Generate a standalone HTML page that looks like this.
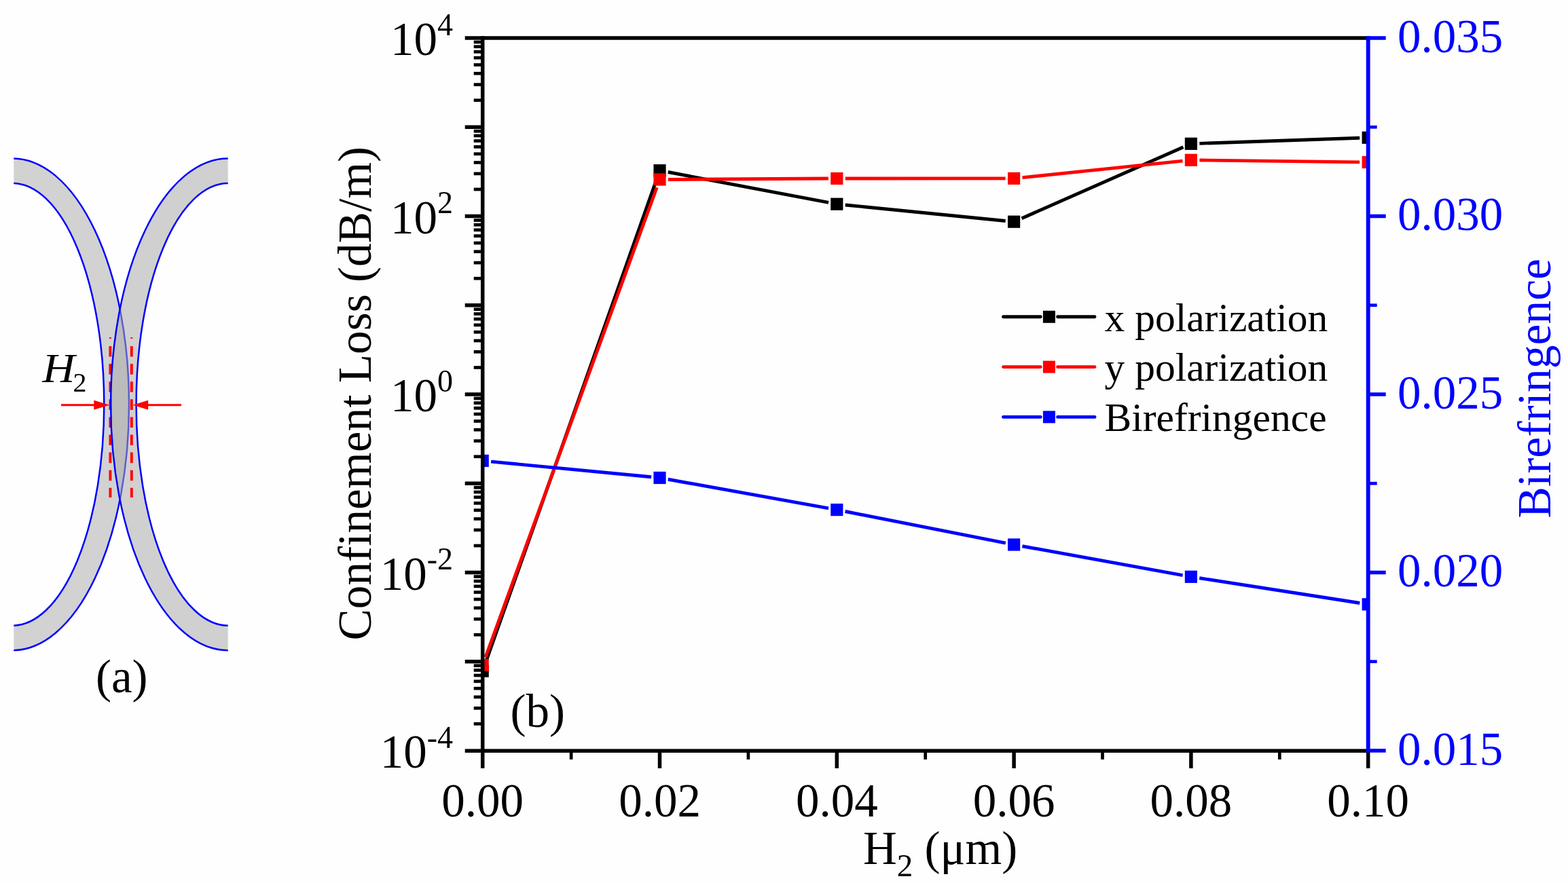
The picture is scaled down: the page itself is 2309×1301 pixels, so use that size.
<!DOCTYPE html>
<html lang="en"><head><meta charset="utf-8"><title>Confinement loss and birefringence versus H2</title>
<style>html,body{margin:0;padding:0;background:#fefefe;}body{width:2309px;height:1301px;overflow:hidden;}svg{display:block;}text{font-family:'Liberation Serif', serif;}</style>
</head><body>
<svg width="2309" height="1301" viewBox="0 0 2309 1301">
<rect x="0" y="0" width="2309" height="1301" fill="#fefefe"/>
<g id="panel-a">
<defs><clipPath id="aclip"><rect x="20.3" y="200" width="315.5" height="800"/></clipPath></defs>
<g clip-path="url(#aclip)">
<path d="M18.5,233.4 A171.5,362.4 0 0 1 18.5,958.2 L18.5,921.7 A134.85,325.9 0 0 0 18.5,269.9 Z" fill="#d2d2d2"/>
<path d="M18.5,233.4 A171.5,362.4 0 0 1 18.5,958.2" fill="none" stroke="#0000ff" stroke-width="2.5"/>
<path d="M18.5,269.9 A134.85,325.9 0 0 1 18.5,921.7" fill="none" stroke="#0000ff" stroke-width="2.5"/>
<path d="M335.8,233.4 A172.7,362.4 0 0 0 335.8,958.2 L335.8,921.7 A135.25,325.9 0 0 1 335.8,269.9 Z" fill="#a9a9a9" fill-opacity="0.55"/>
<line x1="162.4" y1="497" x2="162.4" y2="499" stroke="#ff0000" stroke-width="3"/>
<line x1="162.4" y1="510" x2="162.4" y2="733" stroke="#ff0000" stroke-width="3.9" stroke-dasharray="15.6 10.5"/>
<line x1="193.8" y1="497" x2="193.8" y2="499" stroke="#ff0000" stroke-width="3"/>
<line x1="193.8" y1="510" x2="193.8" y2="733" stroke="#ff0000" stroke-width="3.9" stroke-dasharray="15.6 10.5"/>
<path d="M335.8,233.4 A172.7,362.4 0 0 0 335.8,958.2" fill="none" stroke="#0000ff" stroke-width="2.5"/>
<path d="M335.8,269.9 A135.25,325.9 0 0 0 335.8,921.7" fill="none" stroke="#0000ff" stroke-width="2.5"/>
</g>
<line x1="90" y1="596.8" x2="140" y2="596.8" stroke="#ff0000" stroke-width="3.1"/>
<polygon points="138.3,589.8 161.4,596.8 138.3,603.8" fill="#ff0000"/>
<line x1="267" y1="596.8" x2="217" y2="596.8" stroke="#ff0000" stroke-width="3.1"/>
<polygon points="218.2,589.8 195.4,596.8 218.2,603.8" fill="#ff0000"/>
<text transform="translate(62.6,563.2) scale(1.07,1)" x="0" y="0" font-size="62" font-style="italic" fill="#000">H</text>
<text x="107.5" y="577.4" font-size="40" fill="#000">2</text>
<text x="141" y="1020" font-size="69" fill="#000">(a)</text>
</g>
<g id="panel-b">
<defs><clipPath id="plotclip"><rect x="710.7" y="56" width="1304" height="1050"/></clipPath></defs>
<g clip-path="url(#plotclip)">
<line x1="714.87" y1="976.92" x2="967.33" y2="262.98" stroke="#000000" stroke-width="4.9"/>
<line x1="983.78" y1="253.53" x2="1220.02" y2="298.37" stroke="#000000" stroke-width="4.9"/>
<line x1="1244.74" y1="301.94" x2="1480.66" y2="325.46" stroke="#000000" stroke-width="4.9"/>
<line x1="1504.54" y1="321.66" x2="1742.46" y2="216.84" stroke="#000000" stroke-width="4.9"/>
<line x1="1766.39" y1="211.37" x2="2002.21" y2="203.23" stroke="#000000" stroke-width="4.9"/>
<rect x="701.6" y="979.6" width="18.2" height="18.2" fill="#000000"/>
<rect x="962.4" y="242.1" width="18.2" height="18.2" fill="#000000"/>
<rect x="1223.2" y="291.6" width="18.2" height="18.2" fill="#000000"/>
<rect x="1484" y="317.6" width="18.2" height="18.2" fill="#000000"/>
<rect x="1744.8" y="202.7" width="18.2" height="18.2" fill="#000000"/>
<rect x="2005.6" y="193.7" width="18.2" height="18.2" fill="#000000"/>
<line x1="714.98" y1="968.26" x2="967.22" y2="276.24" stroke="#ff0000" stroke-width="4.9"/>
<line x1="984" y1="264.43" x2="1219.8" y2="263.07" stroke="#ff0000" stroke-width="4.9"/>
<line x1="1244.8" y1="263" x2="1480.6" y2="262.9" stroke="#ff0000" stroke-width="4.9"/>
<line x1="1505.53" y1="261.61" x2="1741.47" y2="237.09" stroke="#ff0000" stroke-width="4.9"/>
<line x1="1766.4" y1="235.95" x2="2002.2" y2="238.85" stroke="#ff0000" stroke-width="4.9"/>
<rect x="701.6" y="970.9" width="18.2" height="18.2" fill="#ff0000"/>
<rect x="962.4" y="255.4" width="18.2" height="18.2" fill="#ff0000"/>
<rect x="1223.2" y="253.9" width="18.2" height="18.2" fill="#ff0000"/>
<rect x="1484" y="253.8" width="18.2" height="18.2" fill="#ff0000"/>
<rect x="1744.8" y="226.7" width="18.2" height="18.2" fill="#ff0000"/>
<rect x="2005.6" y="229.9" width="18.2" height="18.2" fill="#ff0000"/>
<line x1="723.14" y1="680.1" x2="959.06" y2="702.8" stroke="#0000ff" stroke-width="4.9"/>
<line x1="983.8" y1="706.22" x2="1220" y2="748.88" stroke="#0000ff" stroke-width="4.9"/>
<line x1="1244.56" y1="753.52" x2="1480.84" y2="800.08" stroke="#0000ff" stroke-width="4.9"/>
<line x1="1505.4" y1="804.73" x2="1741.6" y2="847.57" stroke="#0000ff" stroke-width="4.9"/>
<line x1="1766.25" y1="851.72" x2="2002.35" y2="888.48" stroke="#0000ff" stroke-width="4.9"/>
<rect x="701.6" y="669.8" width="18.2" height="18.2" fill="#0000ff"/>
<rect x="962.4" y="694.9" width="18.2" height="18.2" fill="#0000ff"/>
<rect x="1223.2" y="742" width="18.2" height="18.2" fill="#0000ff"/>
<rect x="1484" y="793.4" width="18.2" height="18.2" fill="#0000ff"/>
<rect x="1744.8" y="840.7" width="18.2" height="18.2" fill="#0000ff"/>
<rect x="2005.6" y="881.3" width="18.2" height="18.2" fill="#0000ff"/>
</g>
<g stroke="#000" fill="none">
<line x1="684.7" y1="56" x2="2014.7" y2="56" stroke-width="5.5"/>
<line x1="684.7" y1="1106.3" x2="2014.7" y2="1106.3" stroke-width="5.5"/>
<line x1="710.7" y1="53.25" x2="710.7" y2="1132" stroke-width="5.5"/>
<line x1="697.7" y1="147.74" x2="710.7" y2="147.74" stroke-width="4.7"/>
<line x1="697.7" y1="124.63" x2="710.7" y2="124.63" stroke-width="4.7"/>
<line x1="697.7" y1="108.23" x2="710.7" y2="108.23" stroke-width="4.7"/>
<line x1="697.7" y1="95.51" x2="710.7" y2="95.51" stroke-width="4.7"/>
<line x1="697.7" y1="85.12" x2="710.7" y2="85.12" stroke-width="4.7"/>
<line x1="697.7" y1="76.33" x2="710.7" y2="76.33" stroke-width="4.7"/>
<line x1="697.7" y1="68.72" x2="710.7" y2="68.72" stroke-width="4.7"/>
<line x1="697.7" y1="62.01" x2="710.7" y2="62.01" stroke-width="4.7"/>
<line x1="684.7" y1="187.25" x2="710.7" y2="187.25" stroke-width="5.5"/>
<line x1="697.7" y1="278.99" x2="710.7" y2="278.99" stroke-width="4.7"/>
<line x1="697.7" y1="255.88" x2="710.7" y2="255.88" stroke-width="4.7"/>
<line x1="697.7" y1="239.48" x2="710.7" y2="239.48" stroke-width="4.7"/>
<line x1="697.7" y1="226.76" x2="710.7" y2="226.76" stroke-width="4.7"/>
<line x1="697.7" y1="216.37" x2="710.7" y2="216.37" stroke-width="4.7"/>
<line x1="697.7" y1="207.58" x2="710.7" y2="207.58" stroke-width="4.7"/>
<line x1="697.7" y1="199.97" x2="710.7" y2="199.97" stroke-width="4.7"/>
<line x1="697.7" y1="193.26" x2="710.7" y2="193.26" stroke-width="4.7"/>
<line x1="684.7" y1="318.5" x2="710.7" y2="318.5" stroke-width="5.5"/>
<line x1="697.7" y1="410.24" x2="710.7" y2="410.24" stroke-width="4.7"/>
<line x1="697.7" y1="387.13" x2="710.7" y2="387.13" stroke-width="4.7"/>
<line x1="697.7" y1="370.73" x2="710.7" y2="370.73" stroke-width="4.7"/>
<line x1="697.7" y1="358.01" x2="710.7" y2="358.01" stroke-width="4.7"/>
<line x1="697.7" y1="347.62" x2="710.7" y2="347.62" stroke-width="4.7"/>
<line x1="697.7" y1="338.83" x2="710.7" y2="338.83" stroke-width="4.7"/>
<line x1="697.7" y1="331.22" x2="710.7" y2="331.22" stroke-width="4.7"/>
<line x1="697.7" y1="324.51" x2="710.7" y2="324.51" stroke-width="4.7"/>
<line x1="684.7" y1="449.75" x2="710.7" y2="449.75" stroke-width="5.5"/>
<line x1="697.7" y1="541.49" x2="710.7" y2="541.49" stroke-width="4.7"/>
<line x1="697.7" y1="518.38" x2="710.7" y2="518.38" stroke-width="4.7"/>
<line x1="697.7" y1="501.98" x2="710.7" y2="501.98" stroke-width="4.7"/>
<line x1="697.7" y1="489.26" x2="710.7" y2="489.26" stroke-width="4.7"/>
<line x1="697.7" y1="478.87" x2="710.7" y2="478.87" stroke-width="4.7"/>
<line x1="697.7" y1="470.08" x2="710.7" y2="470.08" stroke-width="4.7"/>
<line x1="697.7" y1="462.47" x2="710.7" y2="462.47" stroke-width="4.7"/>
<line x1="697.7" y1="455.76" x2="710.7" y2="455.76" stroke-width="4.7"/>
<line x1="684.7" y1="581" x2="710.7" y2="581" stroke-width="5.5"/>
<line x1="697.7" y1="672.74" x2="710.7" y2="672.74" stroke-width="4.7"/>
<line x1="697.7" y1="649.63" x2="710.7" y2="649.63" stroke-width="4.7"/>
<line x1="697.7" y1="633.23" x2="710.7" y2="633.23" stroke-width="4.7"/>
<line x1="697.7" y1="620.51" x2="710.7" y2="620.51" stroke-width="4.7"/>
<line x1="697.7" y1="610.12" x2="710.7" y2="610.12" stroke-width="4.7"/>
<line x1="697.7" y1="601.33" x2="710.7" y2="601.33" stroke-width="4.7"/>
<line x1="697.7" y1="593.72" x2="710.7" y2="593.72" stroke-width="4.7"/>
<line x1="697.7" y1="587.01" x2="710.7" y2="587.01" stroke-width="4.7"/>
<line x1="684.7" y1="712.25" x2="710.7" y2="712.25" stroke-width="5.5"/>
<line x1="697.7" y1="803.99" x2="710.7" y2="803.99" stroke-width="4.7"/>
<line x1="697.7" y1="780.88" x2="710.7" y2="780.88" stroke-width="4.7"/>
<line x1="697.7" y1="764.48" x2="710.7" y2="764.48" stroke-width="4.7"/>
<line x1="697.7" y1="751.76" x2="710.7" y2="751.76" stroke-width="4.7"/>
<line x1="697.7" y1="741.37" x2="710.7" y2="741.37" stroke-width="4.7"/>
<line x1="697.7" y1="732.58" x2="710.7" y2="732.58" stroke-width="4.7"/>
<line x1="697.7" y1="724.97" x2="710.7" y2="724.97" stroke-width="4.7"/>
<line x1="697.7" y1="718.26" x2="710.7" y2="718.26" stroke-width="4.7"/>
<line x1="684.7" y1="843.5" x2="710.7" y2="843.5" stroke-width="5.5"/>
<line x1="697.7" y1="935.24" x2="710.7" y2="935.24" stroke-width="4.7"/>
<line x1="697.7" y1="912.13" x2="710.7" y2="912.13" stroke-width="4.7"/>
<line x1="697.7" y1="895.73" x2="710.7" y2="895.73" stroke-width="4.7"/>
<line x1="697.7" y1="883.01" x2="710.7" y2="883.01" stroke-width="4.7"/>
<line x1="697.7" y1="872.62" x2="710.7" y2="872.62" stroke-width="4.7"/>
<line x1="697.7" y1="863.83" x2="710.7" y2="863.83" stroke-width="4.7"/>
<line x1="697.7" y1="856.22" x2="710.7" y2="856.22" stroke-width="4.7"/>
<line x1="697.7" y1="849.51" x2="710.7" y2="849.51" stroke-width="4.7"/>
<line x1="684.7" y1="974.75" x2="710.7" y2="974.75" stroke-width="5.5"/>
<line x1="697.7" y1="1066.49" x2="710.7" y2="1066.49" stroke-width="4.7"/>
<line x1="697.7" y1="1043.38" x2="710.7" y2="1043.38" stroke-width="4.7"/>
<line x1="697.7" y1="1026.98" x2="710.7" y2="1026.98" stroke-width="4.7"/>
<line x1="697.7" y1="1014.26" x2="710.7" y2="1014.26" stroke-width="4.7"/>
<line x1="697.7" y1="1003.87" x2="710.7" y2="1003.87" stroke-width="4.7"/>
<line x1="697.7" y1="995.08" x2="710.7" y2="995.08" stroke-width="4.7"/>
<line x1="697.7" y1="987.47" x2="710.7" y2="987.47" stroke-width="4.7"/>
<line x1="697.7" y1="980.76" x2="710.7" y2="980.76" stroke-width="4.7"/>
<line x1="841.1" y1="1106" x2="841.1" y2="1119" stroke-width="4.7"/>
<line x1="971.5" y1="1106" x2="971.5" y2="1132" stroke-width="5.5"/>
<line x1="1101.9" y1="1106" x2="1101.9" y2="1119" stroke-width="4.7"/>
<line x1="1232.3" y1="1106" x2="1232.3" y2="1132" stroke-width="5.5"/>
<line x1="1362.7" y1="1106" x2="1362.7" y2="1119" stroke-width="4.7"/>
<line x1="1493.1" y1="1106" x2="1493.1" y2="1132" stroke-width="5.5"/>
<line x1="1623.5" y1="1106" x2="1623.5" y2="1119" stroke-width="4.7"/>
<line x1="1753.9" y1="1106" x2="1753.9" y2="1132" stroke-width="5.5"/>
<line x1="1884.3" y1="1106" x2="1884.3" y2="1119" stroke-width="4.7"/>
<line x1="2014.7" y1="1106" x2="2014.7" y2="1132" stroke-width="5.5"/>
</g>
<g stroke="#0000ff" fill="none">
<line x1="2014.7" y1="53.25" x2="2014.7" y2="1108.75" stroke-width="5.9"/>
<line x1="2014.7" y1="56" x2="2040.7" y2="56" stroke-width="5.5"/>
<line x1="2014.7" y1="187.25" x2="2027.7" y2="187.25" stroke-width="4.7"/>
<line x1="2014.7" y1="318.5" x2="2040.7" y2="318.5" stroke-width="5.5"/>
<line x1="2014.7" y1="449.75" x2="2027.7" y2="449.75" stroke-width="4.7"/>
<line x1="2014.7" y1="581" x2="2040.7" y2="581" stroke-width="5.5"/>
<line x1="2014.7" y1="712.25" x2="2027.7" y2="712.25" stroke-width="4.7"/>
<line x1="2014.7" y1="843.5" x2="2040.7" y2="843.5" stroke-width="5.5"/>
<line x1="2014.7" y1="974.75" x2="2027.7" y2="974.75" stroke-width="4.7"/>
<line x1="2014.7" y1="1106" x2="2040.7" y2="1106" stroke-width="5.5"/>
</g>
<text x="667" y="81" font-size="69" text-anchor="end" fill="#000">10<tspan font-size="46" dy="-29.5">4</tspan></text>
<text x="667" y="343.5" font-size="69" text-anchor="end" fill="#000">10<tspan font-size="46" dy="-29.5">2</tspan></text>
<text x="667" y="606" font-size="69" text-anchor="end" fill="#000">10<tspan font-size="46" dy="-29.5">0</tspan></text>
<text x="667" y="868.5" font-size="69" text-anchor="end" fill="#000">10<tspan font-size="46" dy="-29.5">-2</tspan></text>
<text x="667" y="1131" font-size="69" text-anchor="end" fill="#000">10<tspan font-size="46" dy="-29.5">-4</tspan></text>
<text x="710.7" y="1202.6" font-size="69" text-anchor="middle" fill="#000">0.00</text>
<text x="971.5" y="1202.6" font-size="69" text-anchor="middle" fill="#000">0.02</text>
<text x="1232.3" y="1202.6" font-size="69" text-anchor="middle" fill="#000">0.04</text>
<text x="1493.1" y="1202.6" font-size="69" text-anchor="middle" fill="#000">0.06</text>
<text x="1753.9" y="1202.6" font-size="69" text-anchor="middle" fill="#000">0.08</text>
<text x="2014.7" y="1202.6" font-size="69" text-anchor="middle" fill="#000">0.10</text>
<text x="2058" y="76.5" font-size="69" fill="#0000ff">0.035</text>
<text x="2058" y="339" font-size="69" fill="#0000ff">0.030</text>
<text x="2058" y="601.5" font-size="69" fill="#0000ff">0.025</text>
<text x="2058" y="864" font-size="69" fill="#0000ff">0.020</text>
<text x="2058" y="1126.5" font-size="69" fill="#0000ff">0.015</text>
<text transform="translate(545.6,943.4) rotate(-90)" font-size="69.3" fill="#000">Confinement Loss (dB/m)</text>
<text transform="translate(2283.4,763.6) rotate(-90)" font-size="69.6" fill="#0000ff">Birefringence</text>
<text x="1271" y="1272.5" font-size="69" fill="#000">H<tspan font-size="47" dy="18.5">2</tspan><tspan dy="-18.5"> (μm)</tspan></text>
<text x="751.5" y="1071" font-size="69" fill="#000">(b)</text>
<line x1="1477.5" y1="466.8" x2="1532.2" y2="466.8" stroke="#000000" stroke-width="4.9" stroke-linecap="round"/>
<line x1="1557.5" y1="466.8" x2="1612" y2="466.8" stroke="#000000" stroke-width="4.9" stroke-linecap="round"/>
<rect x="1535.9" y="457.8" width="18" height="18" fill="#000000"/>
<text x="1626.5" y="487.6" font-size="59.5" fill="#000">x polarization</text>
<line x1="1477.5" y1="540.6" x2="1532.2" y2="540.6" stroke="#ff0000" stroke-width="4.9" stroke-linecap="round"/>
<line x1="1557.5" y1="540.6" x2="1612" y2="540.6" stroke="#ff0000" stroke-width="4.9" stroke-linecap="round"/>
<rect x="1535.9" y="531.6" width="18" height="18" fill="#ff0000"/>
<text x="1626.5" y="561.4" font-size="59.5" fill="#000">y polarization</text>
<line x1="1477.5" y1="614.4" x2="1532.2" y2="614.4" stroke="#0000ff" stroke-width="4.9" stroke-linecap="round"/>
<line x1="1557.5" y1="614.4" x2="1612" y2="614.4" stroke="#0000ff" stroke-width="4.9" stroke-linecap="round"/>
<rect x="1535.9" y="605.4" width="18" height="18" fill="#0000ff"/>
<text x="1626.5" y="635.2" font-size="59.5" fill="#000">Birefringence</text>
</g>
</svg>
</body></html>
